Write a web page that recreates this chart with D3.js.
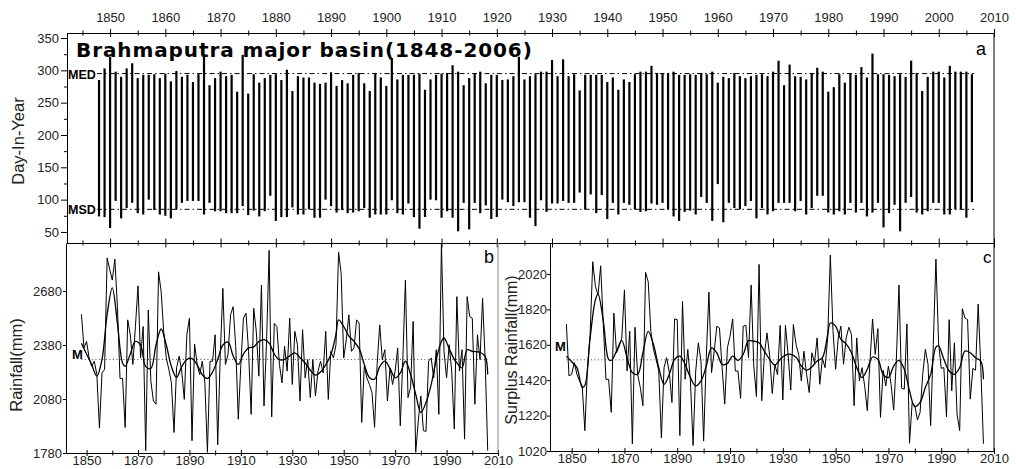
<!DOCTYPE html>
<html lang="en">
<head>
<meta charset="UTF-8">
<title>Brahmaputra major basin</title>
<script src="https://d3js.org/d3.v7.min.js"></script>
<style>
  body { margin: 0; background: #fff; }
  svg { font-family: "Liberation Sans", Arial, sans-serif; }
  .axis text { font-size: 13px; fill: #222; }
  .axis path, .axis line { stroke: #000; stroke-width: 1; }
</style>
</head>
<body>
<div id="chart"></div>
<script>
// ---- data (1848-2006) ----
var firstYear = 1848;

// monsoon withdrawal (top of each bar) and onset (bottom), day-in-year
var withdrawalDay = [
  285,303,321,298,290,303,311,288,293,293, 294,288,295,283,299,290,293,282,294,321,
  277,288,298,291,293,267,324,264,294,281, 288,293,294,285,301,268,291,289,289,281,
  279,281,297,276,285,280,293,296,280,268, 296,289,276,319,286,293,293,293,295,270,
  286,293,295,296,308,298,277,288,296,298, 280,293,293,285,286,291,321,286,291,294,
  298,298,316,291,317,291,294,269,293,293, 293,293,282,289,270,286,282,294,298,298,
  307,296,296,296,298,293,293,294,293,296, 294,298,281,290,288,296,291,288,291,293,
  294,291,298,315,277,309,291,290,286,296, 304,298,267,274,294,281,295,293,305,289,
  326,294,294,293,291,294,290,315,296,268, 290,298,298,289,307,298,298,298,294
];
var onsetDay = [
  74,73,56,98,71,87,95,79,77,100, 84,77,75,71,85,95,98,98,98,77,
  95,82,82,79,79,79,90,76,83,74, 82,106,67,73,73,88,77,77,85,72,
  72,100,90,80,84,79,80,82,87,72, 77,77,77,99,79,77,94,73,55,73,
  100,99,72,82,72,51,95,54,95,79, 91,70,73,100,96,90,96,96,72,59,
  99,81,94,94,98,95,95,111,85,108, 79,107,70,95,77,95,92,85,81,82,
  94,92,95,85,74,67,81,83,77,104, 95,67,124,65,95,87,85,90,98,71,
  87,77,82,95,95,95,82,98,77,87, 106,106,80,77,82,77,95,80,95,74,
  80,95,57,79,92,51,95,104,80,77, 82,95,95,77,77,85,85,72,96
];
var medDay = 295;   // mean end day
var msdDay = 85;    // mean start day

// annual rainfall (mm)
var rainfall = [
  2551,2364,2400,2308,2262,2290,2216,1918,2225,2244, 2864,2800,2741,2857,2593,2194,2194,1922,2520,2437,
  2272,2483,2709,2308,2483,1793,2575,2179,2069,2051, 2787,2676,2456,2308,2244,2170,1894,2253,2318,2235,
  2078,2437,2529,1848,2386,2272,2216,2290,2170,1784, 2290,2290,2437,1826,2327,2695,2272,2327,2548,2593,
  2373,1968,2272,2529,2557,2345,1995,2584,2456,2207, 2713,2041,2400,2906,1981,2500,2483,2272,2170,2373,
  2235,2529,2161,2456,2382,2069,2465,2198,2299,2088, 2299,2097,2235,2290,2225,2456,2078,2345,2308,2382,
  2897,2778,2308,2410,2548,2345,2364,2520,2502,1950, 2262,2198,2161,2115,1922,2272,2492,2299,2354,2069,
  2253,2161,2235,2364,1931,2308,2741,2088,2143,2511, 1784,1959,2097,1904,1900,2290,2308,2198,2354,1995,
  2945,2345,2198,2382,2235,1913,2649,2235,2354,1857, 2649,2538,2529,2051,2437,2299,2640,2300,1793
];
var rainSmooth = [
  [1848,2390],[1850,2330],[1852,2270],[1854,2207],[1856,2300],[1858,2550],[1860,2698],[1862,2500],
  [1864,2280],[1865,2262],[1867,2330],[1869,2400],[1871,2380],[1873,2260],[1875,2250],[1877,2380],
  [1879,2469],[1881,2380],[1883,2260],[1885,2200],[1887,2260],[1889,2300],[1891,2305],[1893,2270],
  [1895,2215],[1897,2194],[1899,2230],[1901,2300],[1903,2380],[1905,2397],[1907,2320],[1909,2272],
  [1911,2330],[1913,2364],[1915,2370],[1917,2400],[1919,2410],[1921,2391],[1923,2330],[1925,2299],
  [1927,2300],[1929,2320],[1931,2336],[1933,2310],[1935,2280],[1937,2240],[1939,2213],[1941,2230],
  [1943,2270],[1945,2327],[1947,2440],[1948,2520],[1950,2483],[1952,2430],[1954,2400],[1956,2360],
  [1958,2272],[1960,2200],[1962,2190],[1964,2260],[1966,2290],[1968,2250],[1970,2198],[1972,2225],
  [1974,2290],[1976,2216],[1978,2106],[1980,2005],[1982,2060],[1984,2160],[1986,2300],[1988,2400],
  [1989,2419],[1991,2360],[1993,2300],[1994,2281],[1996,2253],[1998,2354],[2000,2345],[2003,2340],
  [2005,2317],[2006,2216]
];
var rainMean = 2300;

// surplus rainfall (mm)
var surplus = [
  1738,1444,1453,1519,1453,1416,1388,1135,1491,1678, 2089,1950,1900,2066,1734,1425,1425,1238,1799,1575,
  1612,1659,1930,1472,1696,1061,1719,1453,1379,1276, 2029,1977,1696,1594,1538,1472,1094,1491,1547,1463,
  1294,1766,1762,1107,1865,1425,1594,1416,1051,1472, 1631,1528,1076,1547,1917,1463,1584,1725,1715,1491,
  1285,1603,1668,1766,1472,1472,1317,1725,1730,1547, 1958,1500,1328,2074,1304,1560,1687,1560,1345,1510,
  1450,1730,1308,1730,1566,1364,1734,1622,1566,1416, 1584,1453,1350,1575,1519,1659,1397,1543,1491,1659,
  2127,1700,1482,1659,1725,1510,1659,1719,1678,1276, 1659,1416,1491,1388,1248,1519,1766,1566,1711,1210,
  1476,1388,1500,1397,1251,1532,1958,1375,1369,1738, 1064,1294,1276,1195,1238,1453,1594,1510,1164,1622,
  2104,1631,1487,1491,1214,1762,1360,1631,1229,1135, 1824,1771,1762,1313,1487,1476,1850,1491,1061
];
var surplusSmooth = [
  [1848,1556],[1850,1524],[1852,1491],[1854,1379],[1855,1390],[1857,1659],[1859,1874],[1860,1906],
  [1862,1753],[1864,1538],[1865,1532],[1867,1584],[1869,1644],[1871,1547],[1873,1463],[1875,1453],
  [1877,1575],[1879,1696],[1881,1622],[1883,1491],[1885,1397],[1887,1453],[1889,1538],[1891,1556],
  [1893,1509],[1895,1435],[1897,1388],[1899,1416],[1901,1500],[1903,1603],[1905,1575],[1907,1509],
  [1909,1515],[1911,1556],[1913,1532],[1915,1566],[1917,1644],[1919,1640],[1921,1631],[1923,1584],
  [1925,1538],[1927,1506],[1929,1538],[1931,1562],[1933,1566],[1935,1550],[1937,1500],[1939,1476],
  [1941,1495],[1943,1528],[1945,1547],[1947,1678],[1948,1743],[1950,1725],[1952,1650],[1954,1625],
  [1956,1575],[1958,1491],[1960,1435],[1962,1482],[1964,1551],[1966,1538],[1968,1453],[1970,1435],
  [1972,1500],[1974,1532],[1976,1482],[1978,1360],[1980,1270],[1982,1294],[1984,1379],[1986,1453],
  [1988,1607],[1989,1613],[1991,1538],[1993,1472],[1995,1453],[1997,1491],[1999,1584],[2001,1575],
  [2003,1547],[2005,1528],[2006,1425]
];
var surplusMean = 1535;

// tick values
var yearMajorTop = [1850,1860,1870,1880,1890,1900,1910,1920,1930,1940,1950,1960,1970,1980,1990,2000,2010];
var yearMinorTop = [1845,1855,1865,1875,1885,1895,1905,1915,1925,1935,1945,1955,1965,1975,1985,1995,2005];
var yearLabelsBottom = [1850,1870,1890,1910,1930,1950,1970,1990,2010];
var yearMinorBottom = [1860,1880,1900,1920,1940,1960,1980,2000];
var dayTicks = [50,100,150,200,250,300,350];
var dayMinor = [75,125,175,225,275,325];
var rainTicks = [1780,2080,2380,2680];
var surplusTicks = [1020,1220,1420,1620,1820,2020];

// ---- layout ----
var W = 1016, H = 469;
var svg = d3.select("#chart").append("svg").attr("width", W).attr("height", H);
var fmt = d3.format("d");

function yearOf(i) { return firstYear + i; }

// panel a
var xa = d3.scaleLinear().domain([1842.2, 2010]).range([67, 994]);
var ya = d3.scaleLinear().domain([32.9, 357.8]).range([243, 33]);
// panel b
var xb = d3.scaleLinear().domain([1842, 2010]).range([66, 498]);
var yb = d3.scaleLinear().domain([1780, 2947]).range([453, 243]);
// panel c
var xc = d3.scaleLinear().domain([1841.8, 2010]).range([550, 994]);
var yc = d3.scaleLinear().domain([1020, 2195]).range([451, 243]);

function crossTicks(g, attr, v) { g.selectAll(".tick line").attr(attr, v); }

// --- panel a axes ---
var gTopMinor = svg.append("g").attr("class", "axis").attr("transform", "translate(0,33)")
  .call(d3.axisTop(xa).tickValues(yearMinorTop).tickSize(2.5).tickSizeOuter(0).tickFormat(""));
crossTicks(gTopMinor, "y1", 2.5);
var gTop = svg.append("g").attr("class", "axis").attr("transform", "translate(0,33)")
  .call(d3.axisTop(xa).tickValues(yearMajorTop).tickSize(4).tickPadding(7).tickSizeOuter(0).tickFormat(fmt));
crossTicks(gTop, "y1", 4);

var gMidMinor = svg.append("g").attr("class", "axis").attr("transform", "translate(0,243)")
  .call(d3.axisBottom(xa).tickValues(yearMinorTop).tickSize(2.5).tickSizeOuter(0).tickFormat(""));
crossTicks(gMidMinor, "y1", -2.5);
var gMid = svg.append("g").attr("class", "axis").attr("transform", "translate(0,243)")
  .call(d3.axisBottom(xa).tickValues(yearMajorTop).tickSize(4.5).tickSizeOuter(0).tickFormat(""));
crossTicks(gMid, "y1", -4.5);

svg.append("g").attr("class", "axis").attr("transform", "translate(67,0)")
  .call(d3.axisLeft(ya).tickValues(dayMinor).tickSize(3).tickSizeOuter(0).tickFormat(""));
svg.append("g").attr("class", "axis").attr("transform", "translate(67,0)")
  .call(d3.axisLeft(ya).tickValues(dayTicks).tickSize(6).tickPadding(2).tickSizeOuter(0).tickFormat(fmt));

// right border of the upper panel, continuing down panel c
svg.append("line").attr("x1", 994).attr("x2", 994).attr("y1", 33).attr("y2", 451)
  .attr("stroke", "#000");

// bars
svg.append("g").selectAll("line.bar")
  .data(withdrawalDay)
  .join("line")
  .attr("class", "bar")
  .attr("x1", function(d, i) { return xa(yearOf(i)); })
  .attr("x2", function(d, i) { return xa(yearOf(i)); })
  .attr("y1", function(d) { return ya(d); })
  .attr("y2", function(d, i) { return ya(onsetDay[i]); })
  .attr("stroke", "#000")
  .attr("stroke-width", 2.2);

// mean lines
[[medDay, "MED"], [msdDay, "MSD"]].forEach(function(m) {
  svg.append("line")
    .attr("x1", xa(firstYear) - 2).attr("x2", xa(2006) + 2)
    .attr("y1", ya(m[0])).attr("y2", ya(m[0]))
    .attr("stroke", "#000").attr("stroke-width", 1)
    .attr("stroke-dasharray", "5,3,1.5,3");
  svg.append("text")
    .attr("x", 68).attr("y", ya(m[0]) + 5)
    .style("font-size", "12.5px").style("font-weight", "bold")
    .text(m[1]);
});

svg.append("text")
  .attr("x", 76).attr("y", 57)
  .style("font-family", "'DejaVu Sans', Verdana, sans-serif")
  .style("font-weight", "bold").style("font-size", "20px")
  .style("letter-spacing", "0.9px")
  .text("Brahmaputra major basin(1848-2006)");

svg.append("text").attr("x", 976).attr("y", 55)
  .style("font-size", "18px").text("a");

svg.append("text")
  .attr("transform", "translate(24,141) rotate(-90)")
  .attr("text-anchor", "middle")
  .style("font-size", "16.5px").style("fill", "#222")
  .text("Day-In-Year");

// --- panel b ---
svg.append("g").attr("class", "axis").attr("transform", "translate(66,0)")
  .call(d3.axisLeft(yb).tickValues(rainTicks).tickSize(3).tickPadding(1).tickSizeOuter(0).tickFormat(fmt));
var gbMinor = svg.append("g").attr("class", "axis").attr("transform", "translate(0,453)")
  .call(d3.axisBottom(xb).tickValues(yearMinorBottom).tickSize(2.5).tickSizeOuter(0).tickFormat(""));
crossTicks(gbMinor, "y1", -2.5);
var gb = svg.append("g").attr("class", "axis").attr("transform", "translate(0,453)")
  .call(d3.axisBottom(xb).tickValues(yearLabelsBottom).tickSize(3).tickPadding(0).tickSizeOuter(0).tickFormat(fmt));
crossTicks(gb, "y1", -3);
svg.append("line").attr("x1", 498).attr("x2", 498).attr("y1", 243).attr("y2", 453)
  .attr("stroke", "#888");

svg.append("line")
  .attr("x1", xb(firstYear)).attr("x2", xb(2006))
  .attr("y1", yb(rainMean)).attr("y2", yb(rainMean))
  .attr("stroke", "#444").attr("stroke-dasharray", "1,2.5");

var rawB = d3.line().x(function(d, i) { return xb(yearOf(i)); }).y(function(d) { return yb(d); });
svg.append("path").attr("d", rawB(rainfall))
  .attr("fill", "none").attr("stroke", "#000").attr("stroke-width", 1);
var smB = d3.line().curve(d3.curveCatmullRom.alpha(0.5))
  .x(function(d) { return xb(d[0]); }).y(function(d) { return yb(d[1]); });
svg.append("path").attr("d", smB(rainSmooth))
  .attr("fill", "none").attr("stroke", "#000").attr("stroke-width", 1.3);

svg.append("text").attr("x", 72).attr("y", yb(rainMean))
  .style("font-size", "13px").style("font-weight", "bold").text("M");
svg.append("text").attr("x", 484).attr("y", 263)
  .style("font-size", "18px").text("b");

svg.append("text")
  .attr("transform", "translate(22,365) rotate(-90)")
  .attr("text-anchor", "middle")
  .style("font-size", "16.5px").style("fill", "#222")
  .text("Rainfall(mm)");

// --- panel c ---
svg.append("g").attr("class", "axis").attr("transform", "translate(550,0)")
  .call(d3.axisLeft(yc).tickValues(surplusTicks).tickSize(3).tickPadding(0).tickSizeOuter(0).tickFormat(fmt));
var gcMinor = svg.append("g").attr("class", "axis").attr("transform", "translate(0,451)")
  .call(d3.axisBottom(xc).tickValues(yearMinorBottom).tickSize(2.5).tickSizeOuter(0).tickFormat(""));
crossTicks(gcMinor, "y1", -2.5);
var gc = svg.append("g").attr("class", "axis").attr("transform", "translate(0,451)")
  .call(d3.axisBottom(xc).tickValues(yearLabelsBottom).tickSize(3).tickPadding(0).tickSizeOuter(0).tickFormat(fmt));
crossTicks(gc, "y1", -3);

svg.append("line")
  .attr("x1", xc(firstYear)).attr("x2", xc(2006))
  .attr("y1", yc(surplusMean)).attr("y2", yc(surplusMean))
  .attr("stroke", "#444").attr("stroke-dasharray", "1,2.5");

var rawC = d3.line().x(function(d, i) { return xc(yearOf(i)); }).y(function(d) { return yc(d); });
svg.append("path").attr("d", rawC(surplus))
  .attr("fill", "none").attr("stroke", "#000").attr("stroke-width", 1);
var smC = d3.line().curve(d3.curveCatmullRom.alpha(0.5))
  .x(function(d) { return xc(d[0]); }).y(function(d) { return yc(d[1]); });
svg.append("path").attr("d", smC(surplusSmooth))
  .attr("fill", "none").attr("stroke", "#000").attr("stroke-width", 1.3);

svg.append("text").attr("x", 555).attr("y", 351)
  .style("font-size", "13px").style("font-weight", "bold").text("M");
svg.append("text").attr("x", 983).attr("y", 263)
  .style("font-size", "17px").text("c");

svg.append("text")
  .attr("transform", "translate(517,350) rotate(-90)")
  .attr("text-anchor", "middle")
  .style("font-size", "16px").style("fill", "#222")
  .text("Surplus Rainfall(mm)");
</script>
</body>
</html>
